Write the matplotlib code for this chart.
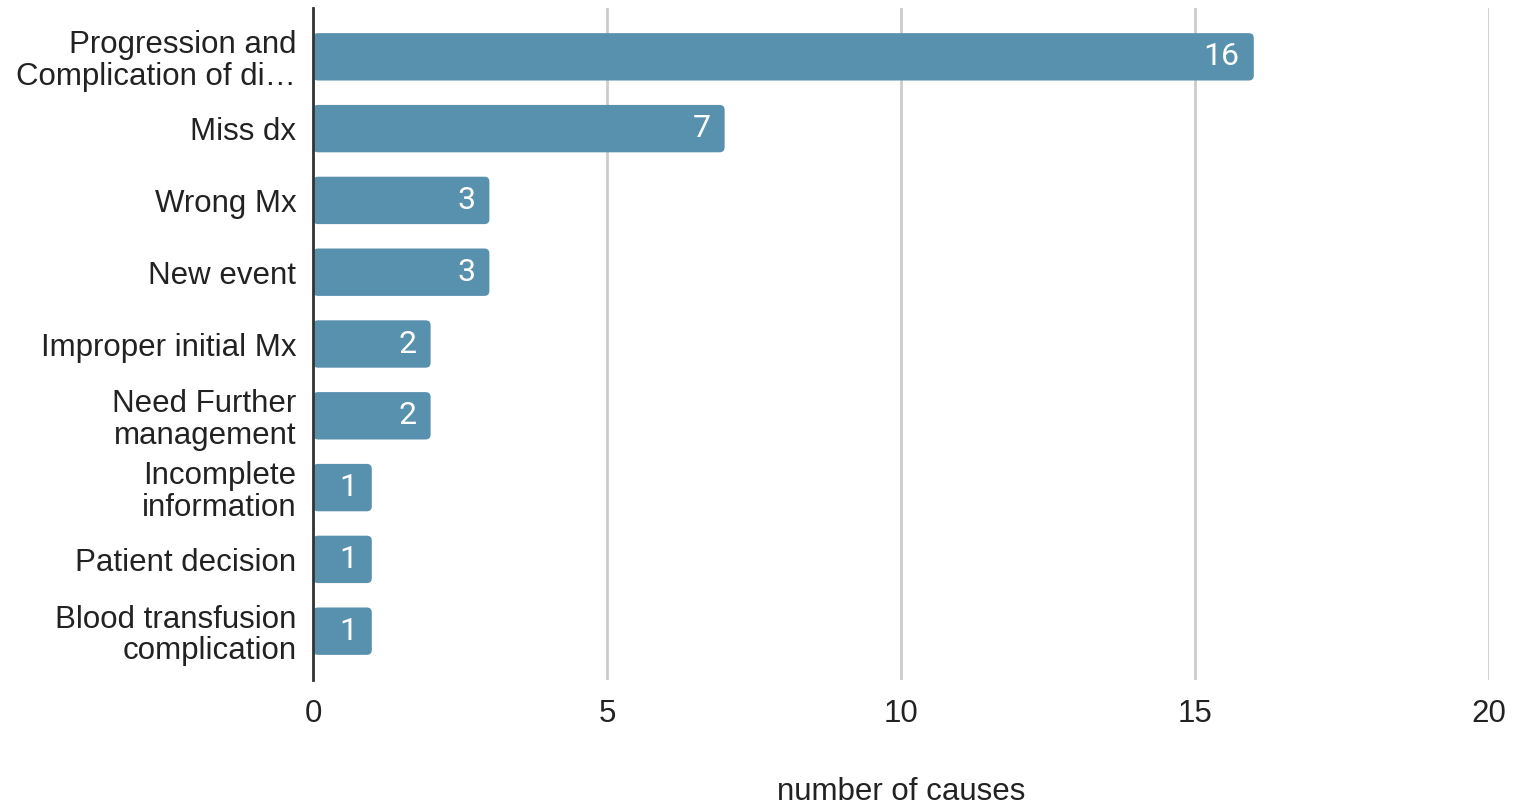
import matplotlib
matplotlib.use("Agg")
import matplotlib.pyplot as plt
from matplotlib.patches import FancyBboxPatch
from matplotlib.transforms import offset_copy

categories = [
    "Progression and\nComplication of di…",
    "Miss dx",
    "Wrong Mx",
    "New event",
    "Improper initial Mx",
    "Need Further\nmanagement",
    "Incomplete\ninformation",
    "Patient decision",
    "Blood transfusion\ncomplication",
]
values = [16, 7, 3, 3, 2, 2, 1, 1, 1]
xticks = [0, 5, 10, 15, 20]
xlabel = "number of causes"

plt.rcParams['font.family'] = ['Liberation Sans', 'DejaVu Sans']
BAR = "#5891ae"
TXT = "#222222"

fig = plt.figure(figsize=(15.14, 8.05), dpi=100)
ax = fig.add_axes([313/1514, 1-680/805, (1489-313)/1514, (680-8)/805])

ypos = list(range(len(categories)))
bars = ax.barh(ypos, values, height=0.66, color=BAR, zorder=2)
ax.set_xlim(0, 20)
ax.set_ylim(8.68, -0.68)

# replace with rounded rectangles
xpx = (1489-313)/20
ypx = (680-8)/9.36
for b in bars:
    x, y = b.get_x(), b.get_y()
    w, h = b.get_width(), b.get_height()
    b.set_visible(False)
    r = 5/xpx
    p = FancyBboxPatch((x, y), w, h, boxstyle=f"round,pad=0,rounding_size={r}",
                       mutation_aspect=xpx/ypx, facecolor=BAR, edgecolor='none', zorder=2)
    ax.add_patch(p)

for yv, v in zip(ypos, values):
    tr = offset_copy(ax.transData, fig=fig, x=-14, y=0, units='dots')
    ax.text(v, yv, str(v), transform=tr, ha='right', va='center', color='white',
            fontsize=23, family=['Roboto', 'DejaVu Sans'], zorder=3)

ax.set_yticks(ypos)
ax.set_yticklabels(categories, fontsize=22.5, color=TXT, linespacing=1.07)
ax.set_xticks(xticks)
ax.set_xticklabels([str(t) for t in xticks], fontsize=22.5, color=TXT)
ax.tick_params(axis='y', length=0, pad=12)
ax.tick_params(axis='x', length=0, pad=14)
ax.set_xlabel(xlabel, fontsize=22.5, color=TXT, labelpad=34)

for s in ['top', 'right', 'bottom']:
    ax.spines[s].set_visible(False)
ax.spines['left'].set_color('#333333')
ax.spines['left'].set_linewidth(2)
ax.spines['left'].set_zorder(4)
ax.grid(axis='x', color='#cccccc', linewidth=2, zorder=0)
ax.set_axisbelow(True)

fig.savefig("out.png", dpi=100)
